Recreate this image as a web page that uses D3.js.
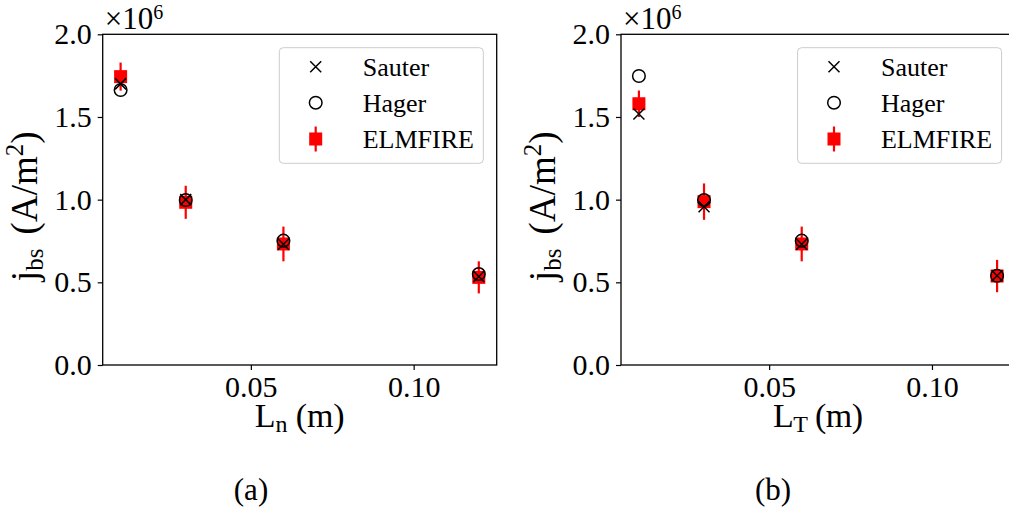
<!DOCTYPE html>
<html lang="en">
<head>
  <meta charset="UTF-8" />
  <title>Bootstrap current vs gradient length</title>
  <style>
    body {
      margin: 0;
      background: #fff;
      overflow: hidden;
    }
    svg text {
      font-family: "Liberation Serif", "DejaVu Serif", serif;
      fill: #000;
    }
  </style>
  <script src="https://cdn.jsdelivr.net/npm/d3@7"></script>
</head>
<body>
  <svg id="chart" width="1009" height="512"></svg>

  <script>
    // gradient length scales (m)
    const lengthScales = [0.01, 0.03, 0.06, 0.12];

    // panel (a): scan in L_n, values in 1e6 A/m^2
    const sauterA = [1.70, 1.00, 0.73, 0.535];
    const hagerA = [1.663, 0.998, 0.752, 0.55];
    const elmfireA = [1.744, 0.984, 0.732, 0.530];
    const elmfireErrA = [0.085, 0.10, 0.105, 0.097];

    // panel (b): scan in L_T
    const sauterB = [1.518, 0.957, 0.73, 0.54];
    const hagerB = [1.748, 0.998, 0.752, 0.54];
    const elmfireB = [1.58, 0.988, 0.732, 0.538];
    const elmfireErrB = [0.08, 0.11, 0.105, 0.098];

    const xTicks = [0.05, 0.10];
    const yTicks = [0.0, 0.5, 1.0, 1.5, 2.0];
    const legendLabels = ['Sauter', 'Hager', 'ELMFIRE'];

    const svg = d3.select('#chart');
    const plotW = 394, plotH = 330.7;
    const tickFont = 30;

    const x = d3.scaleLinear().domain([0.0045, 0.1255]).range([0, plotW]);
    const y = d3.scaleLinear().domain([0, 2]).range([plotH, 0]);

    function xMarker(g, cx, cy, r) {
      g.append('path')
        .attr('d', `M${cx - r},${cy - r}L${cx + r},${cy + r}M${cx - r},${cy + r}L${cx + r},${cy - r}`)
        .attr('stroke', '#000')
        .attr('stroke-width', 1.5)
        .attr('fill', 'none');
    }

    function circleMarker(g, cx, cy) {
      g.append('circle')
        .attr('cx', cx).attr('cy', cy).attr('r', 6.3)
        .attr('fill', 'none')
        .attr('stroke', '#000')
        .attr('stroke-width', 1.5);
    }

    function errMarker(g, cx, cy, top, bottom) {
      g.append('line')
        .attr('x1', cx).attr('x2', cx)
        .attr('y1', top).attr('y2', bottom)
        .attr('stroke', 'red')
        .attr('stroke-width', 2.2);
      g.append('rect')
        .attr('x', cx - 6.5).attr('y', cy - 6.5)
        .attr('width', 13).attr('height', 13)
        .attr('fill', 'red');
    }

    function drawPanel(ox, sauter, hager, elmfire, elmfireErr, xSub, caption, captionX) {
      const g = svg.append('g').attr('transform', `translate(${ox},34.3)`);

      // points: error bars first, model markers on top
      const pts = g.append('g');
      lengthScales.forEach((L, i) => {
        errMarker(pts, x(L), y(elmfire[i]), y(elmfire[i] + elmfireErr[i]), y(elmfire[i] - elmfireErr[i]));
      });
      lengthScales.forEach((L, i) => {
        xMarker(pts, x(L), y(sauter[i]), 5.5);
        circleMarker(pts, x(L), y(hager[i]));
      });

      // axes
      const xAxis = g.append('g')
        .attr('transform', `translate(0,${plotH})`)
        .call(d3.axisBottom(x).tickValues(xTicks).tickFormat(d3.format('.2f')).tickSize(5).tickPadding(6).tickSizeOuter(0));
      const yAxis = g.append('g')
        .call(d3.axisLeft(y).tickValues(yTicks).tickFormat(d3.format('.1f')).tickSize(5).tickPadding(6).tickSizeOuter(0));
      [xAxis, yAxis].forEach(a => {
        a.select('.domain').remove();
        a.selectAll('line').attr('stroke', '#000').attr('stroke-width', 1.2);
        a.selectAll('text').style('font-size', tickFont + 'px').attr('font-family', null);
      });

      // spines
      g.append('rect')
        .attr('width', plotW).attr('height', plotH)
        .attr('fill', 'none')
        .attr('stroke', '#000')
        .attr('stroke-width', 1.3);

      // offset text
      const off = g.append('text').attr('x', 2).attr('y', -5.5).style('font-size', '31px');
      off.append('tspan').text('\u00d710');
      off.append('tspan').attr('dy', -10).style('font-size', '20px').text('6');

      // y label
      const yl = g.append('text')
        .attr('transform', `translate(-66,172) rotate(-90)`)
        .attr('text-anchor', 'middle')
        .style('font-size', '37px');
      yl.append('tspan').text('j');
      yl.append('tspan').attr('dy', 6).style('font-size', '25px').text('bs');
      yl.append('tspan').attr('dy', -6).attr('dx', 5).text(' (A/m');
      yl.append('tspan').attr('dy', -14).style('font-size', '25px').text('2');
      yl.append('tspan').attr('dy', 14).text(')');

      // x label
      const xl = g.append('text')
        .attr('x', plotW / 2).attr('y', plotH + 62.5)
        .attr('text-anchor', 'middle')
        .attr('textLength', 90)
        .attr('lengthAdjust', 'spacing')
        .style('font-size', '34px');
      xl.append('tspan').text('L');
      xl.append('tspan').attr('dy', 5).style('font-size', '24px').text(xSub);
      xl.append('tspan').attr('dy', -5).text(' (m)');

      // legend
      const lg = g.append('g').attr('transform', `translate(${176.6},${13.4})`);
      lg.append('rect')
        .attr('width', 204).attr('height', 115.6)
        .attr('rx', 4)
        .attr('fill', '#fff').attr('fill-opacity', 0.8)
        .attr('stroke', '#ccc').attr('stroke-width', 1);
      const rowY = [19, 55, 91.3];
      xMarker(lg, 36.4, rowY[0], 5.5);
      circleMarker(lg, 36.4, rowY[1]);
      errMarker(lg, 36.4, rowY[2], rowY[2] - 12.5, rowY[2] + 12.5);
      legendLabels.forEach((t, i) => {
        lg.append('text')
          .attr('x', 83.4).attr('y', rowY[i] + 9)
          .style('font-size', '26px')
          .text(t);
      });

      // subfigure caption
      svg.append('text')
        .attr('x', captionX).attr('y', 500)
        .attr('text-anchor', 'middle')
        .style('font-size', '31px')
        .text(caption);
    }

    drawPanel(102.7, sauterA, hagerA, elmfireA, elmfireErrA, 'n', '(a)', 251);
    drawPanel(621, sauterB, hagerB, elmfireB, elmfireErrB, 'T', '(b)', 773);
  </script>
</body>
</html>
